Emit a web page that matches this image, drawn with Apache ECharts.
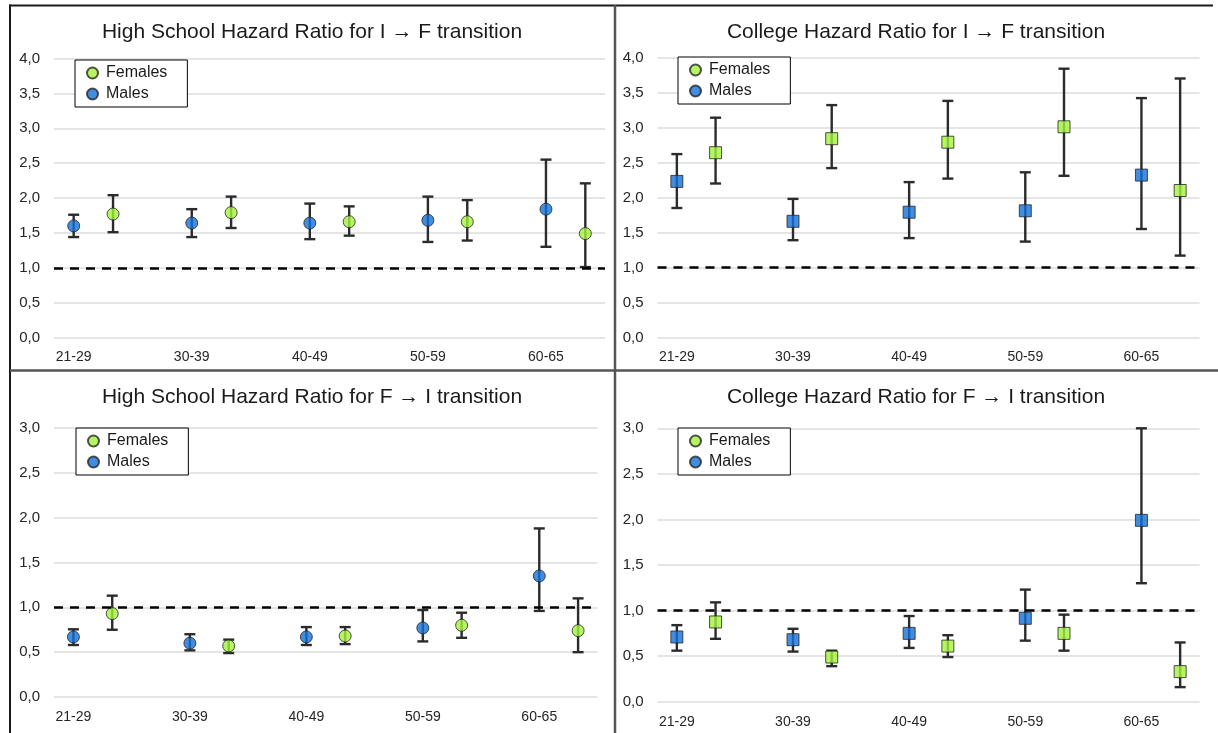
<!DOCTYPE html>
<html>
<head>
<meta charset="utf-8">
<script src="https://cdn.jsdelivr.net/npm/echarts@6/dist/echarts.min.js"></script>
<style>
  html, body { margin: 0; padding: 0; background: #ffffff; }
  #chart { width: 1218px; height: 733px; }
</style>
</head>
<body>
<div id="chart"></div>
<script>
// Age groups on the x axis
const ageGroups = ['21-29', '30-39', '40-49', '50-59', '60-65'];

// High school, I -> F
const hsIF_malesHR = [1.60, 1.64, 1.64, 1.68, 1.84];
const hsIF_malesLo = [1.44, 1.44, 1.41, 1.37, 1.30];
const hsIF_malesHi = [1.76, 1.84, 1.92, 2.02, 2.55];
const hsIF_femalesHR = [1.77, 1.79, 1.66, 1.66, 1.49];
const hsIF_femalesLo = [1.51, 1.57, 1.46, 1.39, 1.01];
const hsIF_femalesHi = [2.04, 2.02, 1.88, 1.97, 2.21];

// College, I -> F
const colIF_malesHR = [2.23, 1.66, 1.79, 1.81, 2.32];
const colIF_malesLo = [1.85, 1.39, 1.42, 1.37, 1.55];
const colIF_malesHi = [2.62, 1.98, 2.22, 2.36, 3.42];
const colIF_femalesHR = [2.64, 2.84, 2.79, 3.01, 2.10];
const colIF_femalesLo = [2.20, 2.42, 2.27, 2.31, 1.17];
const colIF_femalesHi = [3.14, 3.32, 3.38, 3.84, 3.70];

// High school, F -> I
const hsFI_malesHR = [0.67, 0.60, 0.67, 0.77, 1.35];
const hsFI_malesLo = [0.58, 0.52, 0.58, 0.62, 0.96];
const hsFI_malesHi = [0.755, 0.70, 0.78, 0.97, 1.88];
const hsFI_femalesHR = [0.93, 0.57, 0.68, 0.80, 0.74];
const hsFI_femalesLo = [0.75, 0.49, 0.59, 0.66, 0.50];
const hsFI_femalesHi = [1.13, 0.64, 0.78, 0.94, 1.10];

// College, F -> I
const colFI_malesHR = [0.71, 0.68, 0.75, 0.915, 1.99];
const colFI_malesLo = [0.56, 0.55, 0.59, 0.67, 1.30];
const colFI_malesHi = [0.84, 0.80, 0.94, 1.23, 3.00];
const colFI_femalesHR = [0.875, 0.49, 0.61, 0.75, 0.33];
const colFI_femalesLo = [0.69, 0.39, 0.49, 0.56, 0.16];
const colFI_femalesHi = [1.09, 0.56, 0.73, 0.955, 0.65];

// Reference hazard ratio
const referenceHR = 1;

const GREEN = '#a3f23c';
const BLUE = '#1470d8';
const FONT = '"Liberation Sans", Arial, sans-serif';

// Each age group takes three slots: males, females, spacer (no spacer after the last)
const slots = [];
ageGroups.forEach((g, i) => {
  slots.push(g, g + ' F');
  if (i < ageGroups.length - 1) slots.push(g + ' gap');
});
const maleSlot = i => i * 3;
const femaleSlot = i => i * 3 + 1;

const panels = [
  { title: 'High School Hazard Ratio for I \u2192 F transition', symbol: 'circle', yMax: 4,
    grid: { left: 54, top: 58.5, width: 551, height: 279 }, titlePos: [312, 22], legendPos: [75, 60],
    m: [hsIF_malesHR, hsIF_malesLo, hsIF_malesHi], f: [hsIF_femalesHR, hsIF_femalesLo, hsIF_femalesHi] },
  { title: 'College Hazard Ratio for I \u2192 F transition', symbol: 'rect', yMax: 4,
    grid: { left: 657.5, top: 57.5, width: 542, height: 280 }, titlePos: [916, 22], legendPos: [678, 57],
    m: [colIF_malesHR, colIF_malesLo, colIF_malesHi], f: [colIF_femalesHR, colIF_femalesLo, colIF_femalesHi] },
  { title: 'High School Hazard Ratio for F \u2192 I transition', symbol: 'circle', yMax: 3,
    grid: { left: 54, top: 428, width: 543.5, height: 269 }, titlePos: [312, 387], legendPos: [76, 428],
    m: [hsFI_malesHR, hsFI_malesLo, hsFI_malesHi], f: [hsFI_femalesHR, hsFI_femalesLo, hsFI_femalesHi] },
  { title: 'College Hazard Ratio for F \u2192 I transition', symbol: 'rect', yMax: 3,
    grid: { left: 657.5, top: 428.3, width: 542, height: 273.4 }, titlePos: [916, 387], legendPos: [678, 428],
    m: [colFI_malesHR, colFI_malesLo, colFI_malesHi], f: [colFI_femalesHR, colFI_femalesLo, colFI_femalesHi] }
];

// Vertical error bar with end caps, positioned through the axes
function errorBar(params, api) {
  const x = api.value(0);
  const top = api.coord([x, api.value(2)]);
  const bot = api.coord([x, api.value(1)]);
  const hw = 5.5;
  const style = { stroke: '#2b2b2b', lineWidth: 2.4 };
  return {
    type: 'group',
    children: [
      { type: 'line', shape: { x1: top[0], y1: top[1], x2: bot[0], y2: bot[1] }, style },
      { type: 'line', shape: { x1: top[0] - hw, y1: top[1], x2: top[0] + hw, y2: top[1] }, style },
      { type: 'line', shape: { x1: bot[0] - hw, y1: bot[1], x2: bot[0] + hw, y2: bot[1] }, style }
    ]
  };
}

const option = {
  animation: false,
  backgroundColor: '#ffffff',
  title: [], legend: [], grid: [], xAxis: [], yAxis: [], series: [],
  graphic: []
};

panels.forEach((p, k) => {
  option.grid.push(p.grid);
  option.title.push({
    text: p.title, left: p.titlePos[0], top: p.titlePos[1], textAlign: 'center', padding: 0,
    textStyle: { fontFamily: FONT, fontSize: 21, fontWeight: 'normal', color: '#1a1a1a' }
  });
  option.legend.push({
    data: ['Females', 'Males'], orient: 'vertical',
    left: p.legendPos[0], top: p.legendPos[1],
    padding: [5, 20, 5, 11], itemGap: 5, itemWidth: 11, itemHeight: 11,
    borderColor: '#000', borderWidth: 1, borderRadius: 0, backgroundColor: '#fff',
    selectedMode: false,
    textStyle: { fontFamily: FONT, fontSize: 16, color: '#1a1a1a', lineHeight: 16, padding: [0, 0, 0, 3] }
  });
  option.xAxis.push({
    type: 'category', gridIndex: k, data: slots, boundaryGap: true,
    axisLine: { show: false }, axisTick: { show: false }, splitLine: { show: false },
    axisLabel: {
      interval: 0, margin: 13, fontFamily: FONT, fontSize: 14, color: '#262626',
      formatter: v => (ageGroups.includes(v) ? v : '')
    }
  });
  option.yAxis.push({
    type: 'value', gridIndex: k, min: 0, max: p.yMax, interval: 0.5,
    axisLine: { show: false }, axisTick: { show: false },
    splitLine: { lineStyle: { color: '#dcdcdc', width: 1.5 } },
    axisLabel: {
      margin: 14, fontFamily: FONT, fontSize: 15, color: '#262626',
      formatter: v => v.toFixed(1).replace('.', ',')
    }
  });

  const size = 12;
  const mk = (arr, slotFn) => arr[0].map((v, i) => [slotFn(i), v]);
  const bars = (arr, slotFn) => arr[0].map((v, i) => [slotFn(i), arr[1][i], arr[2][i]]);

  option.series.push(
    { name: 'Males CI', type: 'custom', xAxisIndex: k, yAxisIndex: k, renderItem: errorBar,
      data: bars(p.m, maleSlot), encode: { x: 0, y: [1, 2] }, z: 2, silent: true },
    { name: 'Females CI', type: 'custom', xAxisIndex: k, yAxisIndex: k, renderItem: errorBar,
      data: bars(p.f, femaleSlot), encode: { x: 0, y: [1, 2] }, z: 2, silent: true },
    { name: 'Females', type: 'scatter', xAxisIndex: k, yAxisIndex: k, symbol: p.symbol, symbolSize: size,
      itemStyle: { color: GREEN, borderColor: '#262626', borderWidth: 1 }, z: 4,
      data: mk(p.f, femaleSlot),
      markLine: {
        silent: true, symbol: 'none', label: { show: false },
        lineStyle: { color: '#000', width: 2.6, type: [9, 7] },
        data: [{ yAxis: referenceHR }]
      } },
    { name: 'Males', type: 'scatter', xAxisIndex: k, yAxisIndex: k, symbol: p.symbol, symbolSize: size,
      itemStyle: { color: BLUE, borderColor: '#262626', borderWidth: 1 }, z: 4,
      data: mk(p.m, maleSlot) }
  );
});

// Panel frame lines
const line = (x1, y1, x2, y2, color, w) => ({
  type: 'line', silent: true, z: 100,
  shape: { x1, y1, x2, y2 }, style: { stroke: color, lineWidth: w }
});
option.graphic = [
  line(9, 5.5, 1213, 5.5, '#1a1a1a', 2),
  line(10, 4.5, 10, 733, '#1a1a1a', 2),
  line(615, 5, 615, 733, '#555555', 2.5),
  line(10, 370.5, 1218, 370.5, '#555555', 2.5)
];

const chart = echarts.init(document.getElementById('chart'), null, { renderer: 'canvas' });
chart.setOption(option);
</script>
</body>
</html>
